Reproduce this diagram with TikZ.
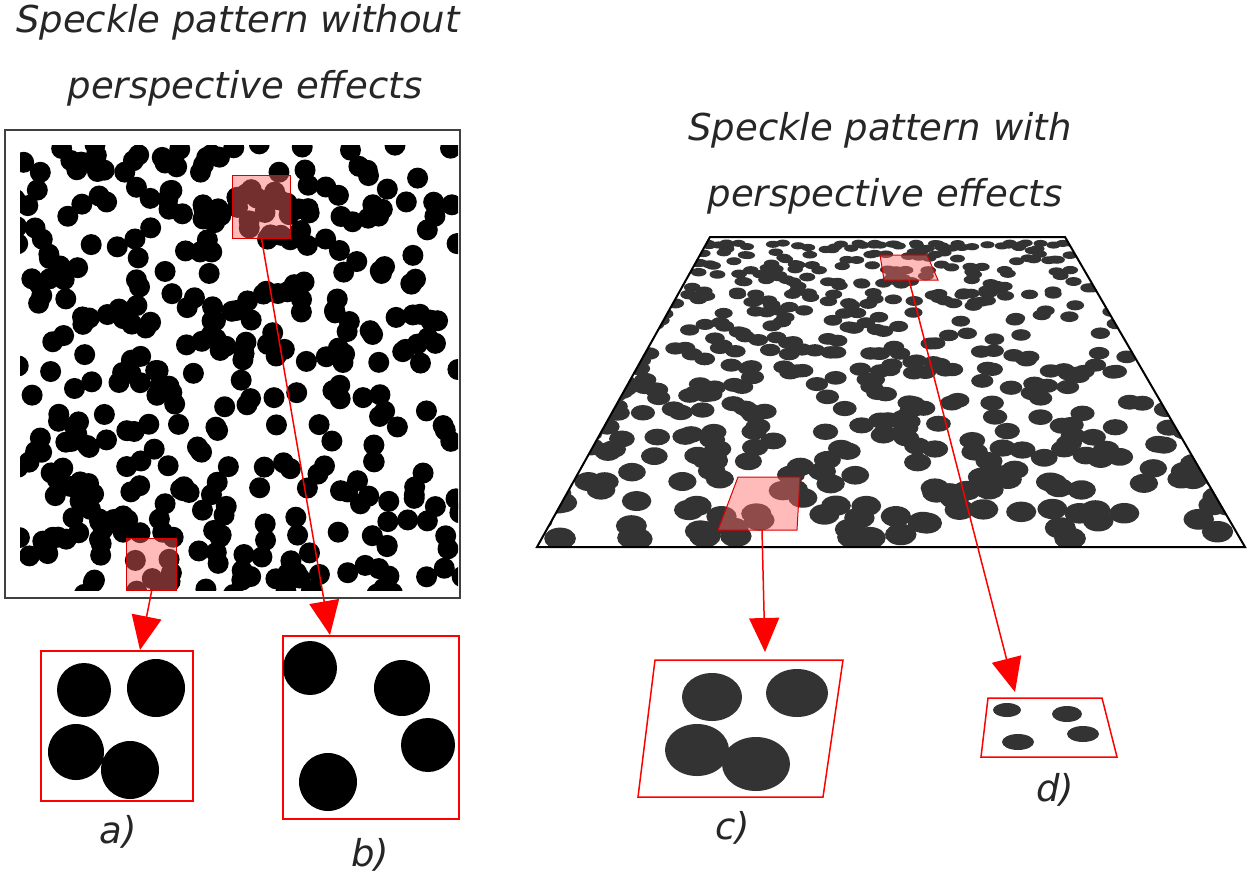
\documentclass[tikz,border=0pt]{standalone}
\usepackage{fontspec}
\setmainfont{DejaVu Sans}
\usetikzlibrary{arrows.meta}
\begin{document}
\begin{tikzpicture}[x=1pt,y=-1pt,
  ttl/.style={font=\fontsize{37}{44}\selectfont\itshape, text=black!85},
  lbl/.style={font=\fontsize{37}{44}\selectfont\itshape, text=black!85},
  hl/.style={draw=red!85!black, fill=red!60, fill opacity=0.45, line width=1.2pt},
  zoombox/.style={draw=red, line width=1.5pt},
  arr/.style={draw=red, line width=1.5pt, -{Triangle[width=30pt,length=34pt]}},
  dot/.style={fill=black}, pdot/.style={fill=black!80}]
\useasboundingbox (0,0) rectangle (1250,884);
\fill[white] (0,0) rectangle (1250,884);
% titles
\node[ttl] (t1) at (238,22) {Speckle pattern without};
\node[ttl] (t2) at (245,88) {perspective effects};
\node[ttl] (t3) at (880,130) {Speckle pattern with};
\node[ttl] (t4) at (885,196) {perspective effects};
% left pattern
\begin{scope}
\clip (20,145) rectangle (458,590);
\pgfmathsetseed{7}
\foreach \i in {1,...,400}{
  \pgfmathsetmacro{\px}{15+448*rnd}
  \pgfmathsetmacro{\py}{140+455*rnd}
  \fill[dot] (\px,\py) circle (10.5);
}
\end{scope}
\draw[black!75, line width=2pt] (5,130) rectangle (460,598);
\node[hl, minimum width=58, minimum height=63, inner sep=0, anchor=north west] (h1) at (232,175) {};
\node[hl, minimum width=50, minimum height=52, inner sep=0, anchor=north west] (h2) at (126,538) {};
% zoom boxes a, b
\node[zoombox, minimum width=152, minimum height=150, inner sep=0, anchor=north west] (a) at (40,650) {};
\fill[dot] (84,690) circle (27) (156,688) circle (29) (76,752) circle (28) (130,770) circle (29);
\node[zoombox, minimum width=176, minimum height=183, inner sep=0, anchor=north west] (b) at (282,635) {};
\fill[dot] (310,668) circle (27) (402,688) circle (28) (428,745) circle (27) (328,782) circle (29);
\draw[arr] (h2.south) -- (a.north -| 140,0);
\draw[arr] (h1.south) -- (b.north -| 330,0);
\node[lbl] (la) at (118,832) {a)};
\node[lbl] (lb) at (370,855) {b)};
% right perspective pattern
\begin{scope}
\clip (710,237) -- (1065,237) -- (1245,547) -- (537,547) -- cycle;
\pgfmathsetseed{11}
\foreach \i in {1,...,520}{
  \pgfmathsetmacro{\t}{pow(rnd,1.5)}
  \pgfmathsetmacro{\u}{-0.02+1.04*rnd}
  \pgfmathsetmacro{\yy}{243+300*\t}
  \pgfmathsetmacro{\xl}{710-173*\t}
  \pgfmathsetmacro{\xr}{1065+180*\t}
  \pgfmathsetmacro{\xx}{\xl+\u*(\xr-\xl)}
  \pgfmathsetmacro{\rx}{7+9*\t}
  \pgfmathsetmacro{\ry}{3.5+7.5*\t}
  \fill[pdot] (\xx,\yy) ellipse [x radius=\rx, y radius=\ry];
}
\end{scope}
\draw[black, line width=2pt] (710,237) -- (1065,237) -- (1245,547) -- (537,547) -- cycle;
\coordinate (hc1) at (909,280);
\coordinate (hc2) at (762,530);
\fill[red!60, opacity=0.45] (880,255) -- (927,255) -- (938,280) -- (884,280) -- cycle;
\draw[red!85!black, line width=1pt] (880,255) -- (927,255) -- (938,280) -- (884,280) -- cycle;
\fill[red!60, opacity=0.45] (738,477) -- (800,477) -- (797,530) -- (718,530) -- cycle;
\draw[red!85!black, line width=1pt] (738,477) -- (800,477) -- (797,530) -- (718,530) -- cycle;
% zoom boxes c, d
\draw[zoombox] (655,660) -- (843,660) -- (823,797) -- (638,797) -- cycle;
\fill[pdot] (712,697) ellipse [x radius=30, y radius=24] (797,693) ellipse [x radius=31, y radius=24]
  (697,750) ellipse [x radius=32, y radius=26] (756,764) ellipse [x radius=34, y radius=27];
\coordinate (c) at (765,652);
\draw[zoombox] (988,698) -- (1102,698) -- (1117,757) -- (981,757) -- cycle;
\fill[pdot] (1007,710) ellipse [x radius=14, y radius=7] (1067,714) ellipse [x radius=15, y radius=8]
  (1018,742) ellipse [x radius=16, y radius=8] (1083,734) ellipse [x radius=16, y radius=8];
\coordinate (d) at (1015,692);
\draw[arr] (hc2) -- (c);
\draw[arr] (hc1) -- (d);
\node[lbl] (lc) at (733,828) {c)};
\node[lbl] (ld) at (1055,790) {d)};
\end{tikzpicture}
\end{document}
